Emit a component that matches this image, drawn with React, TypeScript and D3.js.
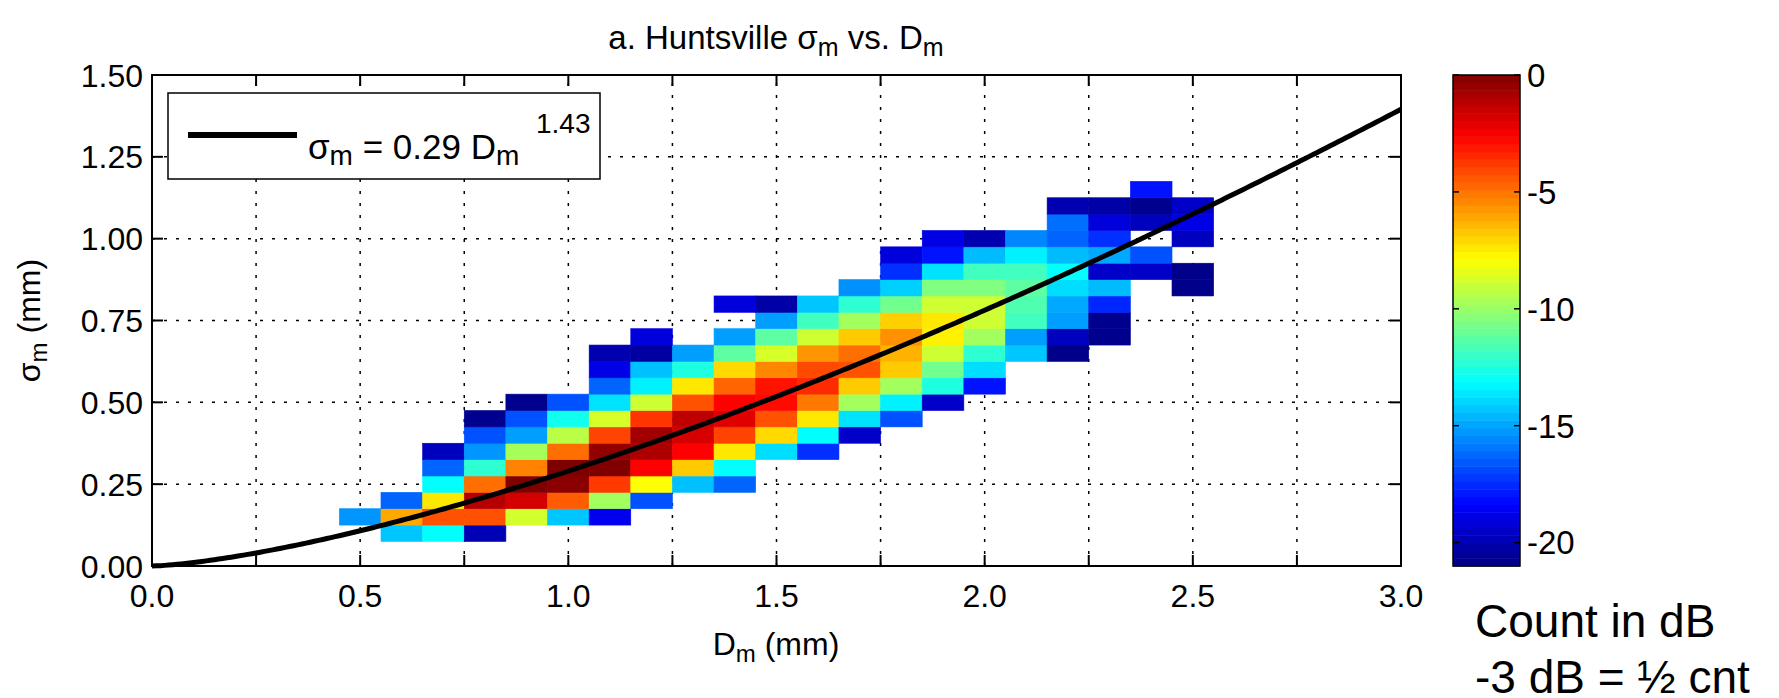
import React from 'react';
import * as d3 from 'd3';

// ---- data ----
const dmBins = [0.5, 0.6, 0.7, 0.8, 0.9, 1.0, 1.1, 1.2, 1.3, 1.4, 1.5, 1.6, 1.7, 1.8, 1.9, 2.0, 2.1, 2.2, 2.3, 2.4, 2.5];
const sigmaBins = [0.10, 0.15, 0.20, 0.25, 0.30, 0.35, 0.40, 0.45, 0.50, 0.55, 0.60, 0.65, 0.70, 0.75, 0.80, 0.85, 0.90, 0.95, 1.00, 1.05, 1.10, 1.15];
const N = null;
// count in dB, one row per sigma bin (bottom to top), one column per Dm bin
const countDb: (number | null)[][] = [
  /*0.10*/ [N, -14.3, -13.1, -19.9, N, N, N, N, N, N, N, N, N, N, N, N, N, N, N, N, N],
  /*0.15*/ [-15.3, -6.1, -4.3, -4.3, -8.8, -14.3, -18.7, N, N, N, N, N, N, N, N, N, N, N, N, N, N],
  /*0.20*/ [N, -16.3, -7.4, -1.1, -1.7, -4.5, -9.8, -16.7, N, N, N, N, N, N, N, N, N, N, N, N, N],
  /*0.25*/ [N, N, -13.1, -4.9, 0, -0.2, -3.8, -7.9, -14.4, -16.3, N, N, N, N, N, N, N, N, N, N, N],
  /*0.30*/ [N, N, -16.3, -12.2, -5.3, 0, 0, -2.6, -6.8, -13.1, N, N, N, N, N, N, N, N, N, N, N],
  /*0.35*/ [N, N, -19.7, -15.3, -9.7, -4.9, -0.4, -0.9, -2.6, -7.4, -13.8, -17.4, N, N, N, N, N, N, N, N, N],
  /*0.40*/ [N, N, N, -16.7, -15.1, -9.3, -4.0, -0.7, -1.8, -4.0, -7.1, -13.1, -19.5, N, N, N, N, N, N, N, N],
  /*0.45*/ [N, N, N, -20.7, -16.7, -12.8, -8.7, -3.7, -1.3, -2.0, -4.3, -7.4, -13.7, -16.7, N, N, N, N, N, N, N],
  /*0.50*/ [N, N, N, N, -20.7, -16.7, -13.7, -8.9, -4.3, -2.6, -2.8, -5.1, -9.8, -13.4, -19.5, N, N, N, N, N, N],
  /*0.55*/ [N, N, N, N, N, N, -16.3, -13.4, -7.4, -4.7, -3.0, -3.5, -6.8, -9.8, -12.5, -18.0, N, N, N, N, N],
  /*0.60*/ [N, N, N, N, N, N, -18.9, -14.4, -12.5, -7.1, -5.4, -4.1, -4.3, -6.8, -10.8, -13.8, N, N, N, N, N],
  /*0.65*/ [N, N, N, N, N, N, -20.0, -20.3, -15.1, -11.2, -8.7, -5.7, -4.9, -6.3, -8.9, -12.2, -14.3, -20.8, N, N, N],
  /*0.70*/ [N, N, N, N, N, N, N, -19.1, N, -15.1, -11.2, -8.9, -6.8, -5.6, -7.6, -9.8, -15.1, -19.7, -20.7, N, N],
  /*0.75*/ [N, N, N, N, N, N, N, N, N, N, -15.1, -11.8, -9.8, -6.9, -7.4, -8.9, -11.8, -15.1, -20.7, N, N],
  /*0.80*/ [N, N, N, N, N, N, N, N, N, -19.1, -20.2, -14.3, -12.2, -10.8, -8.9, -8.9, -11.5, -14.9, -17.6, N, N],
  /*0.85*/ [N, N, N, N, N, N, N, N, N, N, N, N, -15.4, -14.1, -10.5, -10.5, -11.2, -13.8, -14.5, N, -20.8],
  /*0.90*/ [N, N, N, N, N, N, N, N, N, N, N, N, N, -17.4, -13.7, -11.8, -11.8, -13.1, -19.5, -19.5, -20.8],
  /*0.95*/ [N, N, N, N, N, N, N, N, N, N, N, N, N, -19.1, -18.0, -14.5, -13.4, -14.5, -14.9, -16.7, N],
  /*1.00*/ [N, N, N, N, N, N, N, N, N, N, N, N, N, N, -18.9, -20.0, -15.6, -16.3, -17.4, N, -19.7],
  /*1.05*/ [N, N, N, N, N, N, N, N, N, N, N, N, N, N, N, N, N, -16.1, -19.1, -19.7, -18.9],
  /*1.10*/ [N, N, N, N, N, N, N, N, N, N, N, N, N, N, N, N, N, -20.0, -20.2, -20.7, -19.5],
  /*1.15*/ [N, N, N, N, N, N, N, N, N, N, N, N, N, N, N, N, N, N, N, -18.0, N],
];
const dmBinWidth = 0.1;
const sigmaBinHeight = 0.05;

const fitCoef = 0.29;
const fitExp = 1.43;

const xTicks = [0, 0.25, 0.5, 0.75, 1.0, 1.25, 1.5, 1.75, 2.0, 2.25, 2.5, 2.75, 3.0];
const xTickLabels = ['0.0', '', '0.5', '', '1.0', '', '1.5', '', '2.0', '', '2.5', '', '3.0'];
const yTicks = [0, 0.25, 0.5, 0.75, 1.0, 1.25, 1.5];
const yTickLabels = ['0.00', '0.25', '0.50', '0.75', '1.00', '1.25', '1.50'];
const cbTicks = [0, -5, -10, -15, -20];
const cbTickLabels = ['0', '-5', '-10', '-15', '-20'];
const dbRange = [-21, 0];

// ---- layout ----
const W = 1779;
const H = 698;
const PL = 152, PR = 1401, PT = 75, PB = 566;
const CBL = 1453, CBR = 1520;
const FONT = '"Liberation Sans", Arial, Helvetica, sans-serif';

const jet = d3
  .scaleLinear<string>()
  .domain([0, 1 / 8, 3 / 8, 5 / 8, 7 / 8, 1])
  .range(['#000080', '#0000ff', '#00ffff', '#ffff00', '#ff0000', '#800000'])
  .interpolate(d3.interpolateRgb)
  .clamp(true);

export default function App() {
  const x = d3.scaleLinear().domain([0, 3]).range([PL, PR]);
  const y = d3.scaleLinear().domain([0, 1.5]).range([PB, PT]);
  const t = d3.scaleLinear().domain(dbRange).range([0, 1]);
  const cbY = d3.scaleLinear().domain(dbRange).range([PB, PT]);
  const colorOf = (v: number) => jet(t(v));

  const cells: JSX.Element[] = [];
  countDb.forEach((row, i) => {
    row.forEach((v, j) => {
      if (v === null) return;
      const d = dmBins[j];
      const s = sigmaBins[i];
      const x0 = x(d - dmBinWidth / 2);
      const x1 = x(d + dmBinWidth / 2);
      const y0 = y(s + sigmaBinHeight / 2);
      const y1 = y(s - sigmaBinHeight / 2);
      const c = colorOf(v);
      cells.push(
        <rect key={`c${i}-${j}`} x={x0} y={y0} width={x1 - x0} height={y1 - y0} fill={c} stroke={c} strokeWidth={0.6} />
      );
    });
  });

  const fitPts = d3.range(0, 3.0001, 0.01).map((d) => [d, fitCoef * Math.pow(d, fitExp)] as [number, number]);
  const line = d3
    .line<[number, number]>()
    .x((p) => x(p[0]))
    .y((p) => y(p[1]));

  const nBands = 64;
  const bandStep = (dbRange[1] - dbRange[0]) / nBands;
  const bands = d3.range(nBands).map((k) => {
    const lo = dbRange[0] + k * bandStep;
    const hi = lo + bandStep;
    return (
      <rect key={`b${k}`} x={CBL} y={cbY(hi)} width={CBR - CBL} height={cbY(lo) - cbY(hi) + 0.5} fill={jet((k + 0.5) / nBands)} />
    );
  });

  const tickLen = 11;

  return (
    <svg width={W} height={H} style={{ position: 'absolute', left: 0, top: 0, background: '#fff' }} fontFamily={FONT}>
      <rect x={0} y={0} width={W} height={H} fill="#fff" />
      {/* grid */}
      <g stroke="#000" strokeWidth={1.5} strokeDasharray="3 9">
        {xTicks.slice(1, -1).map((v) => (
          <line key={`gx${v}`} x1={x(v)} x2={x(v)} y1={PB} y2={PT} />
        ))}
        {yTicks.slice(1, -1).map((v) => (
          <line key={`gy${v}`} x1={PL} x2={PR} y1={y(v)} y2={y(v)} />
        ))}
      </g>
      {/* heatmap */}
      <g>{cells}</g>
      {/* fit line */}
      <path d={line(fitPts) || ''} fill="none" stroke="#000" strokeWidth={5} />
      {/* frame & ticks */}
      <rect x={PL} y={PT} width={PR - PL} height={PB - PT} fill="none" stroke="#000" strokeWidth={2} />
      <g stroke="#000" strokeWidth={2}>
        {xTicks.map((v) => (
          <g key={`tx${v}`}>
            <line x1={x(v)} x2={x(v)} y1={PB} y2={PB - tickLen} />
            <line x1={x(v)} x2={x(v)} y1={PT} y2={PT + tickLen} />
          </g>
        ))}
        {yTicks.map((v) => (
          <g key={`ty${v}`}>
            <line x1={PL} x2={PL + tickLen} y1={y(v)} y2={y(v)} />
            <line x1={PR} x2={PR - tickLen} y1={y(v)} y2={y(v)} />
          </g>
        ))}
      </g>
      {/* tick labels */}
      <g fontSize={32} fill="#000">
        {xTicks.map((v, i) =>
          xTickLabels[i] ? (
            <text key={`lx${v}`} x={x(v)} y={607} textAnchor="middle">
              {xTickLabels[i]}
            </text>
          ) : null
        )}
        {yTicks.map((v, i) => (
          <text key={`ly${v}`} x={143} y={y(v)} dy="0.36em" textAnchor="end">
            {yTickLabels[i]}
          </text>
        ))}
      </g>
      {/* axis titles */}
      <text x={776} y={655} fontSize={32} textAnchor="middle">
        <tspan>D</tspan>
        <tspan fontSize={24} dy={7}>m</tspan>
        <tspan dy={-7}> (mm)</tspan>
      </text>
      <text transform={`translate(40,${(PT + PB) / 2}) rotate(-90)`} fontSize={32} textAnchor="middle">
        <tspan>σ</tspan>
        <tspan fontSize={24} dy={7}>m</tspan>
        <tspan dy={-7}> (mm)</tspan>
      </text>
      {/* title */}
      <text x={776} y={49} fontSize={33} textAnchor="middle">
        <tspan>a. Huntsville </tspan>
        <tspan>σ</tspan>
        <tspan fontSize={25} dy={7}>m</tspan>
        <tspan dy={-7}> vs. D</tspan>
        <tspan fontSize={25} dy={7}>m</tspan>
      </text>
      {/* legend */}
      <rect x={168} y={93} width={432} height={86} fill="#fff" stroke="#000" strokeWidth={1.5} />
      <line x1={188} x2={297} y1={135} y2={135} stroke="#000" strokeWidth={6} />
      <text x={308} y={159} fontSize={35}>
        <tspan>σ</tspan>
        <tspan fontSize={28} dy={6}>m</tspan>
        <tspan dy={-6}> = 0.29 D</tspan>
        <tspan fontSize={28} dy={6}>m</tspan>
      </text>
      <text x={536} y={133} fontSize={28}>1.43</text>
      {/* colorbar */}
      <g>{bands}</g>
      <rect x={CBL} y={PT} width={CBR - CBL} height={PB - PT} fill="none" stroke="#000" strokeWidth={1.5} />
      <g stroke="#000" strokeWidth={1.5}>
        {cbTicks.map((v) => (
          <g key={`cbt${v}`}>
            <line x1={CBL} x2={CBL + 6} y1={cbY(v)} y2={cbY(v)} />
            <line x1={CBR} x2={CBR - 6} y1={cbY(v)} y2={cbY(v)} />
          </g>
        ))}
      </g>
      <g fontSize={33} fill="#000">
        {cbTicks.map((v, i) => (
          <text key={`cbl${v}`} x={1527} y={cbY(v)} dy="0.36em">
            {cbTickLabels[i]}
          </text>
        ))}
      </g>
      <text x={1475} y={637} fontSize={46}>Count in dB</text>
      <text x={1475} y={693} fontSize={46}>-3 dB = ½ cnt</text>
    </svg>
  );
}
